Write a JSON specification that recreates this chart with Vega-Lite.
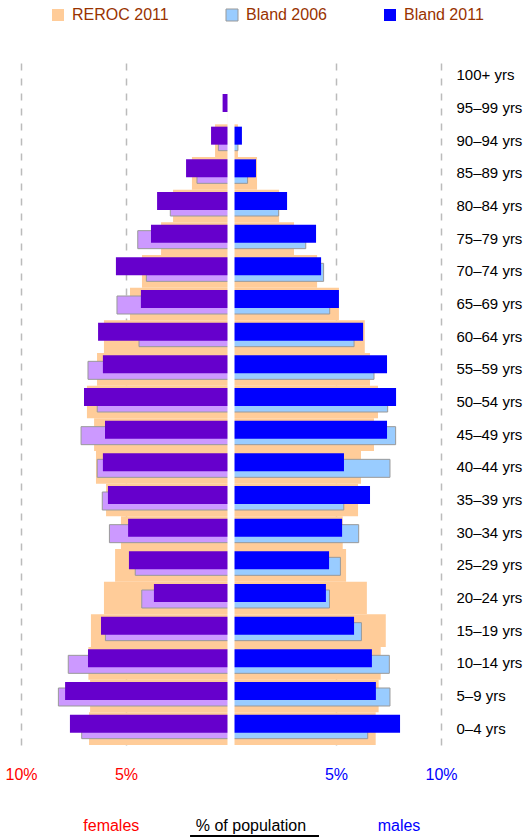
{
  "$schema": "https://vega.github.io/schema/vega-lite/v6.json",
  "padding": {"left": 4, "top": 7, "right": 5, "bottom": 0},
  "bounds": "flush",
  "spacing": 71,
  "config": {"font": "Liberation Sans", "view": {"stroke": null}},
  "datasets": {
    "pyramid": [
      {"age": "100+ yrs", "series": "REROC 2011", "value": 0},
      {"age": "100+ yrs", "series": "Bland 2006", "value": 0},
      {"age": "100+ yrs", "series": "Bland 2011", "value": 0},
      {"age": "100+ yrs", "series": "REROC 2011", "value": 0},
      {"age": "100+ yrs", "series": "Bland 2006", "value": 0},
      {"age": "100+ yrs", "series": "Bland 2011", "value": 0},
      {"age": "95–99 yrs", "series": "REROC 2011", "value": -0.15},
      {"age": "95–99 yrs", "series": "Bland 2006", "value": -0.1},
      {"age": "95–99 yrs", "series": "Bland 2011", "value": -0.4},
      {"age": "95–99 yrs", "series": "REROC 2011", "value": 0.1},
      {"age": "95–99 yrs", "series": "Bland 2006", "value": 0.1},
      {"age": "95–99 yrs", "series": "Bland 2011", "value": 0.1},
      {"age": "90–94 yrs", "series": "REROC 2011", "value": -0.76},
      {"age": "90–94 yrs", "series": "Bland 2006", "value": -0.6},
      {"age": "90–94 yrs", "series": "Bland 2011", "value": -0.95},
      {"age": "90–94 yrs", "series": "REROC 2011", "value": 0.33},
      {"age": "90–94 yrs", "series": "Bland 2006", "value": 0.33},
      {"age": "90–94 yrs", "series": "Bland 2011", "value": 0.52},
      {"age": "85–89 yrs", "series": "REROC 2011", "value": -1.86},
      {"age": "85–89 yrs", "series": "Bland 2006", "value": -1.62},
      {"age": "85–89 yrs", "series": "Bland 2011", "value": -2.14},
      {"age": "85–89 yrs", "series": "REROC 2011", "value": 1.24},
      {"age": "85–89 yrs", "series": "Bland 2006", "value": 0.79},
      {"age": "85–89 yrs", "series": "Bland 2011", "value": 1.19},
      {"age": "80–84 yrs", "series": "REROC 2011", "value": -2.76},
      {"age": "80–84 yrs", "series": "Bland 2006", "value": -2.89},
      {"age": "80–84 yrs", "series": "Bland 2011", "value": -3.52},
      {"age": "80–84 yrs", "series": "REROC 2011", "value": 2.29},
      {"age": "80–84 yrs", "series": "Bland 2006", "value": 2.27},
      {"age": "80–84 yrs", "series": "Bland 2011", "value": 2.67},
      {"age": "75–79 yrs", "series": "REROC 2011", "value": -3.33},
      {"age": "75–79 yrs", "series": "Bland 2006", "value": -4.44},
      {"age": "75–79 yrs", "series": "Bland 2011", "value": -3.81},
      {"age": "75–79 yrs", "series": "REROC 2011", "value": 3.0},
      {"age": "75–79 yrs", "series": "Bland 2006", "value": 3.56},
      {"age": "75–79 yrs", "series": "Bland 2011", "value": 4.05},
      {"age": "70–74 yrs", "series": "REROC 2011", "value": -4.24},
      {"age": "70–74 yrs", "series": "Bland 2006", "value": -4.03},
      {"age": "70–74 yrs", "series": "Bland 2011", "value": -5.48},
      {"age": "70–74 yrs", "series": "REROC 2011", "value": 4.1},
      {"age": "70–74 yrs", "series": "Bland 2006", "value": 4.41},
      {"age": "70–74 yrs", "series": "Bland 2011", "value": 4.29},
      {"age": "65–69 yrs", "series": "REROC 2011", "value": -4.81},
      {"age": "65–69 yrs", "series": "Bland 2006", "value": -5.43},
      {"age": "65–69 yrs", "series": "Bland 2011", "value": -4.29},
      {"age": "65–69 yrs", "series": "REROC 2011", "value": 5.14},
      {"age": "65–69 yrs", "series": "Bland 2006", "value": 4.7},
      {"age": "65–69 yrs", "series": "Bland 2011", "value": 5.14},
      {"age": "60–64 yrs", "series": "REROC 2011", "value": -6.05},
      {"age": "60–64 yrs", "series": "Bland 2006", "value": -4.38},
      {"age": "60–64 yrs", "series": "Bland 2011", "value": -6.33},
      {"age": "60–64 yrs", "series": "REROC 2011", "value": 6.37},
      {"age": "60–64 yrs", "series": "Bland 2006", "value": 5.86},
      {"age": "60–64 yrs", "series": "Bland 2011", "value": 6.29},
      {"age": "55–59 yrs", "series": "REROC 2011", "value": -6.38},
      {"age": "55–59 yrs", "series": "Bland 2006", "value": -6.81},
      {"age": "55–59 yrs", "series": "Bland 2011", "value": -6.1},
      {"age": "55–59 yrs", "series": "REROC 2011", "value": 6.62},
      {"age": "55–59 yrs", "series": "Bland 2006", "value": 6.81},
      {"age": "55–59 yrs", "series": "Bland 2011", "value": 7.43},
      {"age": "50–54 yrs", "series": "REROC 2011", "value": -6.86},
      {"age": "50–54 yrs", "series": "Bland 2006", "value": -6.37},
      {"age": "50–54 yrs", "series": "Bland 2011", "value": -7.0},
      {"age": "50–54 yrs", "series": "REROC 2011", "value": 7.0},
      {"age": "50–54 yrs", "series": "Bland 2006", "value": 7.46},
      {"age": "50–54 yrs", "series": "Bland 2011", "value": 7.86},
      {"age": "45–49 yrs", "series": "REROC 2011", "value": -6.52},
      {"age": "45–49 yrs", "series": "Bland 2006", "value": -7.14},
      {"age": "45–49 yrs", "series": "Bland 2011", "value": -6.0},
      {"age": "45–49 yrs", "series": "REROC 2011", "value": 6.81},
      {"age": "45–49 yrs", "series": "Bland 2006", "value": 7.84},
      {"age": "45–49 yrs", "series": "Bland 2011", "value": 7.43},
      {"age": "40–44 yrs", "series": "REROC 2011", "value": -6.43},
      {"age": "40–44 yrs", "series": "Bland 2006", "value": -6.37},
      {"age": "40–44 yrs", "series": "Bland 2011", "value": -6.1},
      {"age": "40–44 yrs", "series": "REROC 2011", "value": 6.19},
      {"age": "40–44 yrs", "series": "Bland 2006", "value": 7.57},
      {"age": "40–44 yrs", "series": "Bland 2011", "value": 5.38},
      {"age": "35–39 yrs", "series": "REROC 2011", "value": -5.95},
      {"age": "35–39 yrs", "series": "Bland 2006", "value": -6.13},
      {"age": "35–39 yrs", "series": "Bland 2011", "value": -5.86},
      {"age": "35–39 yrs", "series": "REROC 2011", "value": 6.05},
      {"age": "35–39 yrs", "series": "Bland 2006", "value": 5.37},
      {"age": "35–39 yrs", "series": "Bland 2011", "value": 6.62},
      {"age": "30–34 yrs", "series": "REROC 2011", "value": -5.24},
      {"age": "30–34 yrs", "series": "Bland 2006", "value": -5.79},
      {"age": "30–34 yrs", "series": "Bland 2011", "value": -4.9},
      {"age": "30–34 yrs", "series": "REROC 2011", "value": 5.32},
      {"age": "30–34 yrs", "series": "Bland 2006", "value": 6.08},
      {"age": "30–34 yrs", "series": "Bland 2011", "value": 5.29},
      {"age": "25–29 yrs", "series": "REROC 2011", "value": -5.52},
      {"age": "25–29 yrs", "series": "Bland 2006", "value": -4.56},
      {"age": "25–29 yrs", "series": "Bland 2011", "value": -4.86},
      {"age": "25–29 yrs", "series": "REROC 2011", "value": 5.48},
      {"age": "25–29 yrs", "series": "Bland 2006", "value": 5.21},
      {"age": "25–29 yrs", "series": "Bland 2011", "value": 4.67},
      {"age": "20–24 yrs", "series": "REROC 2011", "value": -6.05},
      {"age": "20–24 yrs", "series": "Bland 2006", "value": -4.25},
      {"age": "20–24 yrs", "series": "Bland 2011", "value": -3.67},
      {"age": "20–24 yrs", "series": "REROC 2011", "value": 6.47},
      {"age": "20–24 yrs", "series": "Bland 2006", "value": 4.69},
      {"age": "20–24 yrs", "series": "Bland 2011", "value": 4.52},
      {"age": "15–19 yrs", "series": "REROC 2011", "value": -6.67},
      {"age": "15–19 yrs", "series": "Bland 2006", "value": -5.98},
      {"age": "15–19 yrs", "series": "Bland 2011", "value": -6.19},
      {"age": "15–19 yrs", "series": "REROC 2011", "value": 7.37},
      {"age": "15–19 yrs", "series": "Bland 2006", "value": 6.21},
      {"age": "15–19 yrs", "series": "Bland 2011", "value": 5.86},
      {"age": "10–14 yrs", "series": "REROC 2011", "value": -6.79},
      {"age": "10–14 yrs", "series": "Bland 2006", "value": -7.75},
      {"age": "10–14 yrs", "series": "Bland 2011", "value": -6.81},
      {"age": "10–14 yrs", "series": "REROC 2011", "value": 7.13},
      {"age": "10–14 yrs", "series": "Bland 2006", "value": 7.54},
      {"age": "10–14 yrs", "series": "Bland 2011", "value": 6.71},
      {"age": "5–9 yrs", "series": "REROC 2011", "value": -6.71},
      {"age": "5–9 yrs", "series": "Bland 2006", "value": -8.22},
      {"age": "5–9 yrs", "series": "Bland 2011", "value": -7.9},
      {"age": "5–9 yrs", "series": "REROC 2011", "value": 7.03},
      {"age": "5–9 yrs", "series": "Bland 2006", "value": 7.57},
      {"age": "5–9 yrs", "series": "Bland 2011", "value": 6.9},
      {"age": "0–4 yrs", "series": "REROC 2011", "value": -6.76},
      {"age": "0–4 yrs", "series": "Bland 2006", "value": -7.11},
      {"age": "0–4 yrs", "series": "Bland 2011", "value": -7.67},
      {"age": "0–4 yrs", "series": "REROC 2011", "value": 6.89},
      {"age": "0–4 yrs", "series": "Bland 2006", "value": 6.51},
      {"age": "0–4 yrs", "series": "Bland 2011", "value": 8.05}
    ]
  },
  "vconcat": [
    {
      "width": 420,
      "height": 686,
      "layer": [
        {
          "data": {"name": "pyramid"},
          "transform": [{"filter": "datum.series === 'REROC 2011'"}],
          "mark": {"type": "bar"},
          "encoding": {
            "y": {"field": "age", "type": "nominal", "sort": ["100+ yrs", "95–99 yrs", "90–94 yrs", "85–89 yrs", "80–84 yrs", "75–79 yrs", "70–74 yrs", "65–69 yrs", "60–64 yrs", "55–59 yrs", "50–54 yrs", "45–49 yrs", "40–44 yrs", "35–39 yrs", "30–34 yrs", "25–29 yrs", "20–24 yrs", "15–19 yrs", "10–14 yrs", "5–9 yrs", "0–4 yrs"], "scale": {"paddingInner": 0, "paddingOuter": 0}, "axis": {"orient": "right", "title": null, "domain": false, "ticks": false, "labelPadding": 15, "labelFontSize": 15, "labelColor": "#000000", "labelAlign": "left"}},
            "x": {"field": "value", "type": "quantitative", "scale": {"domain": [-10, 10], "nice": false}, "axis": {"values": [-10, -5, 5, 10], "grid": true, "gridDash": [7, 8], "gridColor": "#bbbbbb", "gridWidth": 1.5, "domain": false, "ticks": false, "labelFlush": false, "labelPadding": 21, "labelFontSize": 16, "labelExpr": "abs(datum.value) + '%'", "labelColor": {"condition": {"test": "datum.value < 0", "value": "#ff0000"}, "value": "#0000ff"}, "title": null}},
            "color": {"field": "series", "type": "nominal", "scale": {"domain": ["REROC 2011", "Bland 2006", "Bland 2011"], "range": ["#ffcc99", "#99ccff", "#0000ff"]}, "legend": {"orient": "none", "legendX": 29, "legendY": -52, "direction": "horizontal", "columns": 3, "title": null, "symbolType": "square", "symbolSize": 144, "labelFontSize": 16, "labelColor": "#993300", "columnPadding": 55, "labelOffset": 6, "labelLimit": 300, "encode": {"symbols": {"update": {"stroke": [{"test": "datum.value === 'Bland 2006'", "value": "#999999"}, {"value": "transparent"}], "strokeWidth": {"value": 1}}}}}}
          }
        },
        {
          "data": {"name": "pyramid"},
          "transform": [{"filter": "datum.series === 'Bland 2006'"}],
          "mark": {"type": "bar", "height": 18, "yOffset": 1, "stroke": "#999999", "strokeWidth": 1},
          "encoding": {
            "y": {"field": "age", "type": "nominal", "sort": ["100+ yrs", "95–99 yrs", "90–94 yrs", "85–89 yrs", "80–84 yrs", "75–79 yrs", "70–74 yrs", "65–69 yrs", "60–64 yrs", "55–59 yrs", "50–54 yrs", "45–49 yrs", "40–44 yrs", "35–39 yrs", "30–34 yrs", "25–29 yrs", "20–24 yrs", "15–19 yrs", "10–14 yrs", "5–9 yrs", "0–4 yrs"]},
            "x": {"field": "value", "type": "quantitative"},
            "color": {"condition": {"test": "datum.value < 0", "value": "#cc99ff"}, "value": "#99ccff"}
          }
        },
        {
          "data": {"name": "pyramid"},
          "transform": [{"filter": "datum.series === 'Bland 2011'"}],
          "mark": {"type": "bar", "height": 18, "yOffset": -5},
          "encoding": {
            "y": {"field": "age", "type": "nominal", "sort": ["100+ yrs", "95–99 yrs", "90–94 yrs", "85–89 yrs", "80–84 yrs", "75–79 yrs", "70–74 yrs", "65–69 yrs", "60–64 yrs", "55–59 yrs", "50–54 yrs", "45–49 yrs", "40–44 yrs", "35–39 yrs", "30–34 yrs", "25–29 yrs", "20–24 yrs", "15–19 yrs", "10–14 yrs", "5–9 yrs", "0–4 yrs"]},
            "x": {"field": "value", "type": "quantitative"},
            "color": {"condition": {"test": "datum.value < 0", "value": "#6600cc"}, "value": "#0000ff"}
          }
        },
        {
          "data": {"values": [{"zero": 0}]},
          "mark": {"type": "rule", "color": "#ffffff", "strokeWidth": 7},
          "encoding": {"x": {"field": "zero", "type": "quantitative"}}
        }
      ]
    },
    {
      "width": 420,
      "height": 20,
      "layer": [
        {
          "data": {"values": [{"label": "females"}]},
          "mark": {"type": "text", "fontSize": 16, "color": "#ff0000", "baseline": "middle"},
          "encoding": {"x": {"datum": -5.7, "type": "quantitative", "scale": {"domain": [-10, 10], "nice": false}, "axis": null}, "y": {"datum": 0.5, "type": "quantitative", "scale": {"domain": [0, 1]}, "axis": null}, "text": {"field": "label"}}
        },
        {
          "data": {"values": [{"label": "% of population"}]},
          "mark": {"type": "text", "fontSize": 16, "color": "#000000", "baseline": "middle"},
          "encoding": {"x": {"datum": 0.95, "type": "quantitative"}, "y": {"datum": 0.5, "type": "quantitative"}, "text": {"field": "label"}}
        },
        {
          "data": {"values": [{"label": "males"}]},
          "mark": {"type": "text", "fontSize": 16, "color": "#0000ff", "baseline": "middle"},
          "encoding": {"x": {"datum": 8.0, "type": "quantitative"}, "y": {"datum": 0.5, "type": "quantitative"}, "text": {"field": "label"}}
        },
        {
          "data": {"values": [{"label": "% of population"}]},
          "mark": {"type": "rule", "color": "#000000", "strokeWidth": 2},
          "encoding": {"x": {"datum": -1.95, "type": "quantitative"}, "x2": {"datum": 4.19}, "y": {"datum": 0, "type": "quantitative"}}
        }
      ]
    }
  ]
}
